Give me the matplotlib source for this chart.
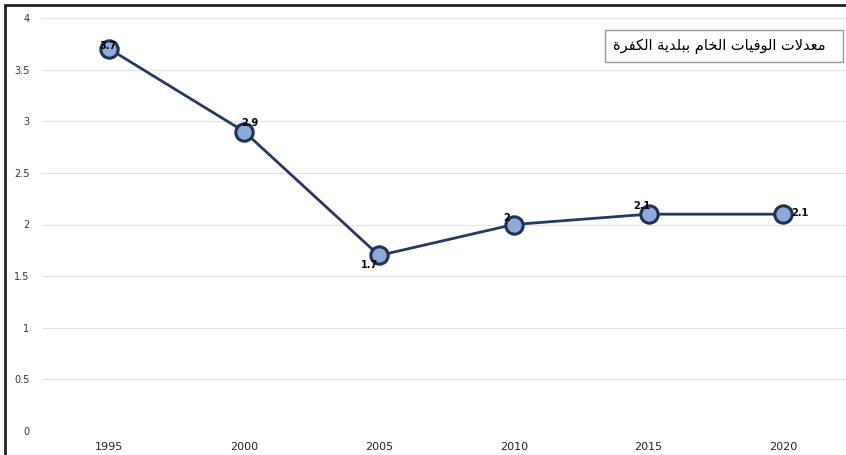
import matplotlib
matplotlib.use("Agg")
import matplotlib.pyplot as plt
from matplotlib.patches import Rectangle

years = ["1995", "2000", "2005", "2010", "2015", "2020"]
rates = [3.7, 2.9, 1.7, 2.0, 2.1, 2.1]
value_labels = ["3.7", "2.9", "1.7", "2", "2.1", "2.1"]
y_ticks = [0, 0.5, 1, 1.5, 2, 2.5, 3, 3.5, 4]
y_tick_labels = ["0", "0.5", "1", "1.5", "2", "2.5", "3", "3.5", "4"]
title = "معدلات الوفيات الخام ببلدية الكفرة"

# label offsets (points) like the excel chart
offsets = [(-1, 2), (4, 6), (-7, -7), (-5, 5), (-5, 6), (12, 1)]

# tiny arabic shaper: char -> (first presentation form, number of forms)
FORMS = {
    "ا": (0xFE8D, 2), "ب": (0xFE8F, 4), "ة": (0xFE93, 2), "ت": (0xFE95, 4),
    "خ": (0xFEA5, 4), "د": (0xFEA9, 2), "ر": (0xFEAD, 2), "ع": (0xFEC9, 4),
    "ف": (0xFED1, 4), "ك": (0xFED9, 4), "ل": (0xFEDD, 4), "م": (0xFEE1, 4),
    "و": (0xFEED, 2), "ي": (0xFEF1, 4),
}


def shape(text):
    out = []
    i = 0
    while i < len(text):
        c = text[i]
        if c not in FORMS:
            out.append(c)
            i += 1
            continue
        prev = text[i - 1] if i > 0 else " "
        join_prev = prev in FORMS and FORMS[prev][1] == 4
        if c == "ل" and i + 1 < len(text) and text[i + 1] == "ا":
            out.append(chr(0xFEFC if join_prev else 0xFEFB))
            i += 2
            continue
        nxt = text[i + 1] if i + 1 < len(text) else " "
        join_next = FORMS[c][1] == 4 and nxt in FORMS
        base = FORMS[c][0]
        if join_prev and join_next:
            out.append(chr(base + 3))
        elif join_prev:
            out.append(chr(base + 1))
        elif join_next:
            out.append(chr(base + 2))
        else:
            out.append(chr(base))
        i += 1
    return "".join(out)[::-1]


W, H = 846, 455
fig = plt.figure(figsize=(W / 100, H / 100), dpi=100)
fig.patch.set_facecolor("white")

# axes: left at x=42px, 0 at y=431px, 4 at y=18px, categories 134.8px apart
left = 42 / W
bottom = (H - 431) / H
width = 134.8 * 6 / W
height = (431 - 18) / H
ax = fig.add_axes([left, bottom, width, height])

x = list(range(len(years)))
ax.plot(x, rates, color="#233a66", lw=2.0, marker="o", ms=12.5,
        markerfacecolor="#8eaadb", markeredgecolor="#1f3156", markeredgewidth=2.2,
        zorder=3, clip_on=False)

for xi, yi, lab, off in zip(x, rates, value_labels, offsets):
    ax.annotate(lab, (xi, yi), xytext=off, textcoords="offset points",
                ha="center", va="center", fontsize=7, fontweight="bold",
                color="black", zorder=4)

ax.set_xlim(-0.5, 5.5)
ax.set_ylim(0, 4)
ax.set_yticks(y_ticks)
ax.set_yticklabels(y_tick_labels)
ax.set_xticks(x)
ax.set_xticklabels(years)
ax.grid(axis="y", color="#e2e2e2", lw=0.8)
ax.set_axisbelow(True)
for s in ax.spines.values():
    s.set_visible(False)
ax.tick_params(axis="y", length=0, labelsize=7, labelcolor="#333333", pad=9)
ax.tick_params(axis="x", length=0, labelsize=8, labelcolor="#222222", pad=8)

# title box
fig.patches.append(Rectangle((605 / W, 1 - 62 / H), 238 / W, 32 / H,
                             transform=fig.transFigure, facecolor="white",
                             edgecolor="#9a9a9a", lw=1.0, zorder=5))
fig.text(826 / W, 1 - 46 / H, shape(title), ha="right", va="center",
         fontsize=10.5, family="DejaVu Sans", color="black", zorder=6)

# outer frame (bottom and right lie outside the picture)
fig.patches.append(Rectangle((5 / W, -0.05), 900 / W, 1.05 - 5 / H,
                             transform=fig.transFigure, fill=False,
                             edgecolor="#222222", lw=2.0, zorder=10))

fig.savefig("out.png", dpi=100)
